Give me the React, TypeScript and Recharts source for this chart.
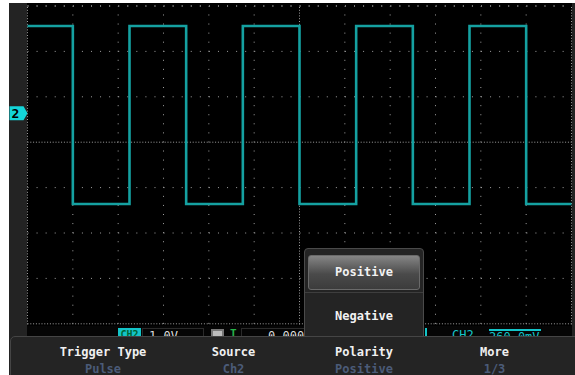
import React from "react";
import { LineChart, Line, XAxis, YAxis, ReferenceLine } from "recharts";

// Square wave: time in divisions, level in volts (CH2, 1.0 V/div)
const edgeTimes = [0, 1.0, 2.25, 3.5, 4.75, 6.0, 7.25, 8.5, 9.75, 11.0, 12];
const levels = [1.92, -2.0, 1.92, -2.0, 1.92, -2.0, 1.92, -2.0, 1.92, -2.0, -2.0];

const xTicks = [1, 2, 3, 4, 5, 7, 8, 9, 10, 11];
const yTicks = [2.36, 1.36, 0.36, -1.64, -2.64, -3.64];
const xDomain = [0, 12];
const yDomain = [-5.64, 2.36];
const centerTime = 6;
const centerLevel = -0.64;
const rulerLevel = -4.64;

const menuTitles = ["Trigger Type", "Source", "Polarity", "More"];
const menuValues = ["Pulse", "Ch2", "Positive", "1/3"];
const popupOptions = ["Positive", "Negative"];

const data = edgeTimes.map((t, i) => ({ t, v: levels[i] }));

const TRACE = "#15a1a1";
const GRID = "#a0a0a0";
const MONO = "'DejaVu Sans Mono', 'Liberation Mono', monospace";

const GroundMarker = (props: any) => {
  const vb = props.viewBox || {};
  const x = vb.x;
  const y = vb.y;
  return (
    <g>
      <polygon
        points={`${x - 18},${y - 7} ${x - 4},${y - 7} ${x},${y} ${x - 4},${y + 7} ${x - 18},${y + 7}`}
        fill="#14d4d8"
      />
      <text x={x - 12} y={y + 5} textAnchor="middle" fontFamily={MONO} fontSize={13} fontWeight="bold" fill="#000">
        2
      </text>
    </g>
  );
};

export default function App() {
  return (
    <div style={{ position: "absolute", left: 0, top: 0, width: 575, height: 375, background: "#fff", overflow: "hidden" }}>
      <div style={{ position: "absolute", left: 9, top: 3, width: 566, height: 372, background: "#232323" }} />
      <div style={{ position: "absolute", left: 27, top: 3, width: 545, height: 334, background: "#000" }} />
      <LineChart
        width={575}
        height={375}
        data={data}
        margin={{ top: 6, left: 27.5, right: 3.5, bottom: 5.8 }}
        style={{ position: "absolute", left: 0, top: 0 }}
      >
        <XAxis dataKey="t" type="number" domain={xDomain} tick={false} axisLine={false} tickLine={false} height={0} />
        <YAxis type="number" domain={yDomain} tick={false} axisLine={false} tickLine={false} width={0} />
        {xTicks.map((x) => (
          <ReferenceLine key={`gx${x}`} x={x} stroke={GRID} strokeDasharray="1 8.07" />
        ))}
        {yTicks.map((y) => (
          <ReferenceLine key={`gy${y}`} y={y} stroke={GRID} strokeDasharray="1 8.07" />
        ))}
        <ReferenceLine y={yDomain[1]} stroke={GRID} strokeDasharray="1 8.07" />
        <ReferenceLine x={centerTime} stroke={GRID} strokeDasharray="1 1.8" />
        <ReferenceLine y={centerLevel} stroke={GRID} strokeDasharray="1 1.8" />
        <ReferenceLine x={xDomain[0]} stroke={GRID} strokeDasharray="1 1.8" />
        <ReferenceLine x={xDomain[1]} stroke={GRID} strokeDasharray="1 1.8" />
        <ReferenceLine y={rulerLevel} stroke={GRID} strokeDasharray="1 1.8" />
        <ReferenceLine y={0} stroke="none" label={(p: any) => <GroundMarker {...p} />} />
        <Line
          dataKey="v"
          type="stepAfter"
          stroke={TRACE}
          strokeWidth={2.6}
          dot={false}
          isAnimationActive={false}
        />
      </LineChart>

      {/* status strip (lower half hidden by the menu) */}
      <div style={{ position: "absolute", left: 27, top: 326, width: 545, height: 10, overflow: "hidden", background: "#050505", fontFamily: MONO, fontSize: 12, lineHeight: "14px" }}>
        <div style={{ position: "absolute", left: 91, top: 2, width: 23, height: 12, background: "#14c4c8", color: "#063", fontWeight: "bold", fontSize: 10, textAlign: "center" }}>CH2</div>
        <div style={{ position: "absolute", left: 115, top: 2, width: 62, height: 12, border: "1px solid #2a2a2a", color: "#ddd", paddingLeft: 6, boxSizing: "border-box" }}>1.0V</div>
        <div style={{ position: "absolute", left: 184, top: 3, width: 13, height: 12, background: "#bdbdbd", border: "2px solid #777", boxSizing: "border-box" }} />
        <div style={{ position: "absolute", left: 203, top: 1, color: "#27b34a", fontWeight: "bold", fontSize: 11 }}>T</div>
        <div style={{ position: "absolute", left: 214, top: 2, width: 130, height: 12, border: "1px solid #2a2a2a", color: "#ddd", paddingLeft: 26, boxSizing: "border-box" }}>0.000</div>
        <div style={{ position: "absolute", left: 398, top: 2, width: 2, height: 10, background: "#14c4c8" }} />
        <div style={{ position: "absolute", left: 425, top: 2, color: "#14c4c8" }}>CH2</div>
        <div style={{ position: "absolute", left: 462, top: 3, width: 52, height: 2, background: "#14c4c8" }} />
        <div style={{ position: "absolute", left: 462, top: 4, color: "#14c4c8" }}>260.0mV</div>
      </div>

      {/* polarity popup */}
      <div style={{ position: "absolute", left: 304, top: 248, width: 120, height: 92, background: "#242424", border: "1px solid #4a4a4a", borderRadius: "4px 4px 0 0", boxSizing: "border-box", fontFamily: MONO, fontSize: 12, fontWeight: "bold", color: "#f2f2f2" }}>
        <div style={{ position: "absolute", left: 3, top: 6, width: 112, height: 35, borderRadius: 3, background: "linear-gradient(#858585, #4a4a4a 55%, #3c3c3c)", border: "1px solid #6a6a6a", boxSizing: "border-box", textAlign: "center", lineHeight: "33px" }}>
          {popupOptions[0]}
        </div>
        <div style={{ position: "absolute", left: 0, top: 43, width: 118, height: 1, background: "#3e3e3e" }} />
        <div style={{ position: "absolute", left: 0, top: 59, width: 118, textAlign: "center", lineHeight: "16px" }}>{popupOptions[1]}</div>
      </div>

      {/* soft-key menu */}
      <div style={{ position: "absolute", left: 10, top: 336, width: 570, height: 45, background: "#242424", border: "1px solid #454545", borderRadius: "5px 0 0 0", boxSizing: "border-box", fontFamily: MONO, fontSize: 12, fontWeight: "bold" }}>
        {menuTitles.map((title, i) => (
          <div key={title} style={{ position: "absolute", left: 27 + i * 130.5, top: 7, width: 130, textAlign: "center" }}>
            <div style={{ color: "#f0f0f0", lineHeight: "16px" }}>{title}</div>
            <div style={{ color: "#4b5b78", lineHeight: "18px" }}>{menuValues[i]}</div>
          </div>
        ))}
      </div>
    </div>
  );
}
